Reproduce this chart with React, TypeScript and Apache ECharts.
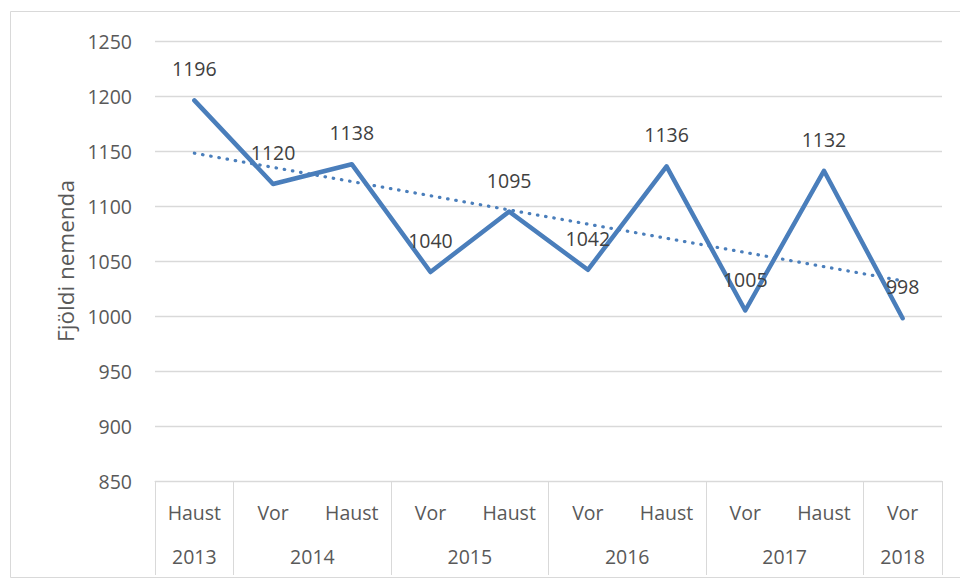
import React, { useEffect, useRef } from "react";
import * as echarts from "echarts";

const seasons = ["Haust", "Vor", "Haust", "Vor", "Haust", "Vor", "Haust", "Vor", "Haust", "Vor"];
const values = [1196, 1120, 1138, 1040, 1095, 1042, 1136, 1005, 1132, 998];
const years = ["2013", "2014", "2015", "2016", "2017", "2018"];
const yearSpans = [1, 2, 2, 2, 2, 1];
const trendStart = 1148;
const trendEnd = 1032;
const yMin = 850;
const yMax = 1250;
const yStep = 50;
const yTitle = "Fjöldi nemenda";

const FONT = "'Open Sans', 'Noto Sans', sans-serif";
const BLUE = "#4a7ebb";
const GRAY_TEXT = "#595959";
const GRID_LINE = "#d9d9d9";
const FS = 19.5;

export default function App() {
  const ref = useRef<HTMLDivElement>(null);
  useEffect(() => {
    if (!ref.current) return;
    const chart = echarts.init(ref.current, null, { renderer: "svg" });

    const boundaries: number[] = [];
    const yearCenters: Record<string, string> = {};
    let acc = 0;
    yearSpans.forEach((s, i) => {
      boundaries.push(acc);
      yearCenters[String(acc + s / 2)] = years[i];
      acc += s;
    });

    const trendData = values.map((_, i) =>
      i === 0 ? trendStart : i === values.length - 1 ? trendEnd : null
    );

    chart.setOption({
      animation: false,
      textStyle: { fontFamily: FONT },
      graphic: [
        {
          type: "rect",
          shape: { x: 10.5, y: 11.5, width: 1000, height: 566 },
          style: { fill: "none", stroke: GRID_LINE, lineWidth: 1 },
          silent: true,
        },
      ],
      grid: { left: 155, right: 18, top: 41, bottom: 98, containLabel: false },
      xAxis: [
        {
          type: "category",
          data: seasons,
          boundaryGap: true,
          axisLine: { show: true, lineStyle: { color: GRID_LINE, width: 1 } },
          axisTick: {
            show: true,
            interval: (index: number) => boundaries.includes(index),
            length: 94,
            lineStyle: { color: GRID_LINE, width: 1 },
          },
          axisLabel: {
            interval: 0,
            margin: 21,
            color: GRAY_TEXT,
            fontSize: FS,
            fontFamily: FONT,
          },
          splitLine: { show: false },
        },
        {
          type: "value",
          position: "bottom",
          min: 0,
          max: seasons.length,
          interval: 0.5,
          axisLine: { show: false },
          axisTick: { show: false },
          splitLine: { show: false },
          axisLabel: {
            margin: 65,
            color: GRAY_TEXT,
            fontSize: FS,
            fontFamily: FONT,
            showMinLabel: true,
            showMaxLabel: true,
            formatter: (v: number) => yearCenters[String(v)] || "",
          },
        },
      ],
      yAxis: {
        type: "value",
        min: yMin,
        max: yMax,
        interval: yStep,
        name: yTitle,
        nameLocation: "middle",
        nameGap: 77,
        nameRotate: 90,
        nameTextStyle: { color: GRAY_TEXT, fontSize: 22.5, fontFamily: FONT },
        axisLine: { show: false },
        axisTick: { show: false },
        axisLabel: {
          color: GRAY_TEXT,
          fontSize: FS,
          margin: 23,
          fontFamily: FONT,
          formatter: (v: number) => String(v),
        },
        splitLine: { show: true, lineStyle: { color: GRID_LINE, width: 1.3 } },
      },
      series: [
        {
          type: "line",
          data: values,
          xAxisIndex: 0,
          symbol: "circle",
          symbolSize: 1,
          showSymbol: true,
          itemStyle: { color: "rgba(0,0,0,0)" },
          lineStyle: { color: BLUE, width: 4.5, cap: "round", join: "round" },
          label: {
            show: true,
            position: "top",
            distance: 21,
            color: "#404040",
            fontSize: FS,
            fontFamily: FONT,
          },
          labelLayout: { hideOverlap: false },
          z: 2,
        },
        {
          type: "line",
          data: trendData,
          xAxisIndex: 0,
          connectNulls: true,
          symbol: "none",
          lineStyle: { color: BLUE, width: 3.2, type: [0.5, 7.8], cap: "round" },
          z: 3,
          silent: true,
        },
      ],
    });
    return () => chart.dispose();
  }, []);

  return (
    <div
      ref={ref}
      style={{ position: "fixed", left: 0, top: 0, width: 960, height: 579, background: "#fff" }}
    />
  );
}
